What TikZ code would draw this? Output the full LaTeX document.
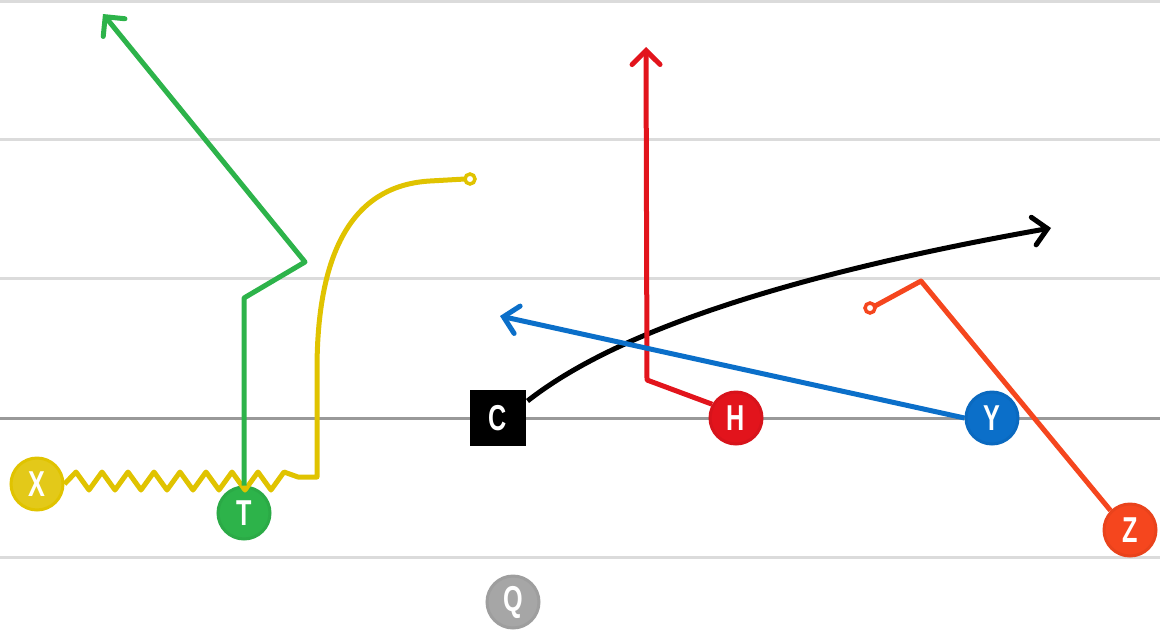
\documentclass[tikz,border=0pt]{standalone}
\usepackage{fontspec}
\setmainfont{Liberation Sans}[FakeStretch=0.7]
\usetikzlibrary{arrows.meta}

\definecolor{xyellow}{HTML}{E0C300}
\definecolor{tgreen}{HTML}{2DB34A}
\definecolor{hred}{HTML}{E2141C}
\definecolor{yblue}{HTML}{0B6FC9}
\definecolor{zorange}{HTML}{F5461E}
\definecolor{qgray}{HTML}{A6A6A6}

\begin{document}
\begin{tikzpicture}[x=1pt,y=-1pt,
    every node/.style={circle,minimum size=52pt,inner sep=0pt,line width=3pt,
        text=white,font=\fontsize{36}{36}\selectfont\bfseries},
    route/.style={line width=5pt,line join=round},
    barb/.style={-{Straight Barb[length=14pt,width=28pt,line cap=round]}}]

    \useasboundingbox (0,0) rectangle (1160,630);

    % Field lines
    \draw[gray!28,line width=3pt] (0,1) -- (1160,1);
    \draw[gray!28,line width=3pt] (0,139) -- (1160,139);
    \draw[gray!28,line width=3pt] (0,278) -- (1160,278);
    \draw[gray!80,line width=3pt] (0,418) -- (1160,418);
    \draw[gray!28,line width=3pt] (0,557) -- (1160,557);

    % Route ends
    \coordinate (xend) at (465,179);
    \coordinate (tend) at (103,14);
    \coordinate (cend) at (1051,228);
    \coordinate (hend) at (646,47);
    \coordinate (yend) at (500,316);
    \coordinate (zend) at (875,306);

    % Nodes
    \node[fill=xyellow!90!white,draw=xyellow] (x) at (37,484) {X};
    \node[fill=tgreen,draw=tgreen!95!black] (t) at (244,513) {T};
    \node[rectangle,fill=black,minimum size=56pt] (c) at (498,418) {C};
    \node[fill=hred,draw=hred!95!black] (h) at (736,418) {H};
    \node[fill=yblue,draw=yblue!95!black] (y) at (992,418) {Y};
    \node[fill=zorange,draw=zorange!95!black] (z) at (1130,530) {Z};
    \node[fill=qgray,draw=qgray!95!black] (q) at (513,602) {Q};

    % Routes
    \draw[route,xyellow] (x.east) -- (76,472)
        \foreach \i in {0,...,7} { -- ++(13,18) -- ++(13,-18) }
        -- (298,477) -- (317,477) -- (317,370)
        .. controls (317,240) and (360,185) .. (430,181) -- (xend);
    \draw[xyellow,line width=3.5pt,fill=white] (470,179) circle (5pt);

    \draw[route,tgreen,barb] (t.north) -- (244,298) -- (305,262) -- (tend);

    \draw[route,black,barb] (c.30) .. controls (580,360) and (700,290) .. (cend);

    \draw[route,hred,barb] (h.150) -- (647,380) -- (hend);

    \draw[route,yblue,barb] (y.west) -- (yend);

    \draw[route,zorange] (z.north west) -- (921,281) -- (zend);
    \draw[zorange,line width=3.5pt,fill=white] (870,308) circle (5pt);

\end{tikzpicture}
\end{document}
